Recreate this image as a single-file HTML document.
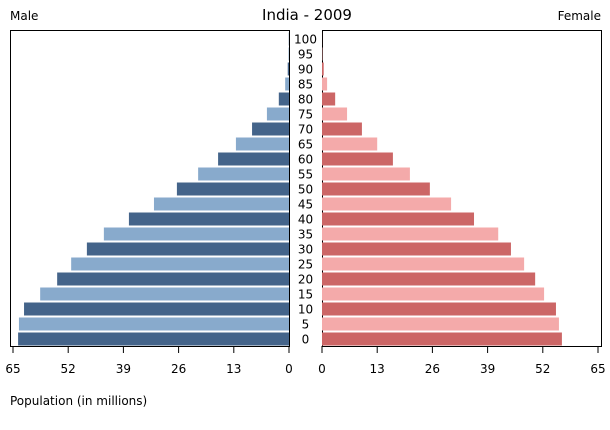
<!DOCTYPE html>
<html><head><meta charset="utf-8"><style>
body{margin:0;background:#fff}
svg text{font-family:"DejaVu Sans","Liberation Sans",sans-serif;fill:#000}
</style></head><body>
<svg id="chart" width="610" height="425" xmlns="http://www.w3.org/2000/svg">
<text x="307" y="20" font-size="15" text-anchor="middle">India - 2009</text>
<text x="10" y="20" font-size="12">Male</text>
<text x="601" y="20" font-size="12" text-anchor="end">Female</text>
<text x="10" y="405" font-size="12">Population (in millions)</text>
<rect x="10.5" y="30.5" width="279" height="316" fill="none" stroke="#000"/>
<rect x="322.5" y="30.5" width="279" height="316" fill="none" stroke="#000"/>
<g id="bars"></g><g id="axes"></g>
</svg>
<script>
const ageGroups=[0,5,10,15,20,25,30,35,40,45,50,55,60,65,70,75,80,85,90,95,100];
const maleValues=[63.8,63.6,62.4,58.6,54.6,51.3,47.6,43.6,37.7,31.8,26.4,21.4,16.7,12.5,8.7,5.2,2.4,0.9,0.3,0.1,0.05];
const femaleValues=[56.5,55.8,55.1,52.3,50.2,47.6,44.5,41.5,35.8,30.4,25.4,20.7,16.7,13.0,9.4,5.9,3.1,1.2,0.4,0.1,0.02];
const tickLabels=[0,13,26,39,52,65];
const NS="http://www.w3.org/2000/svg";
const k=276/65;
const xMale=v=>289-v*k, xFemale=v=>322+v*k;
const yAge=i=>346-15*(i+1)+1.5;
const bars=document.getElementById('bars'), axes=document.getElementById('axes');
function mk(tag,attrs,parent){const e=document.createElementNS(NS,tag);for(const a in attrs)e.setAttribute(a,attrs[a]);parent.appendChild(e);return e;}
ageGroups.forEach((age,i)=>{
  const y=yAge(i), dark=i%2===0;
  const m=mk('rect',{x:xMale(maleValues[i]),y:y,width:maleValues[i]*k,height:13,fill:dark?'#44648a':'#88aacc'},bars);
  
  
  const f=mk('rect',{x:322,y:y,width:femaleValues[i]*k,height:13,fill:dark?'#cc6666':'#f4aaaa'},bars);
  
  
  const t=mk('text',{x:305.5,y:y+11,'font-size':12,'text-anchor':'middle'},axes);
  t.textContent=age;
  
  
});
tickLabels.forEach(v=>{
  [[xMale(v),'male'],[xFemale(v),'female']].forEach(([x,s])=>{
    const l=mk('line',{x1:x,x2:x,y1:346,y2:353,stroke:'#000'},axes);
    
    
    const t=mk('text',{x:x,y:373,'font-size':12,'text-anchor':'middle'},axes);
    t.textContent=v;
    
    
  });
});
</script>
</body></html>
